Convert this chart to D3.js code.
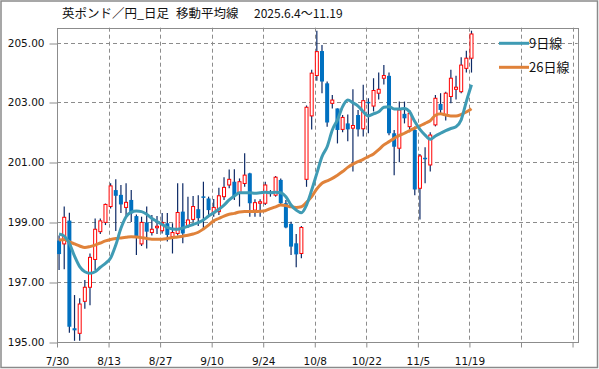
<!DOCTYPE html>
<html>
<head>
<meta charset="utf-8">
<script src="https://cdn.jsdelivr.net/npm/d3@7"></script>
<style>
  html, body { margin: 0; padding: 0; background: #fff; }
  svg { display: block; }
</style>
</head>
<body>
<div id="chart"></div>
<script>
(function () {
  const width = 599;
  const height = 369;

  // daily candles 7/30 .. 11/19
  const open  = [198.38,198.27,199.05,195.45,195.28,196.35,196.82,197.75,198.68,198.99,
                 199.52,200.07,199.91,199.49,199.74,199.20,198.27,198.99,198.65,198.85,
                 198.71,198.96,198.51,198.62,199.35,198.87,199.09,199.43,199.86,199.79,
                 199.31,199.35,199.85,200.24,200.35,199.99,200.29,200.63,199.40,199.65,
                 199.63,200.02,199.90,200.41,199.63,198.94,198.29,197.95,200.43,202.55,
                 203.90,204.72,203.64,202.97,202.80,202.10,202.30,202.14,202.58,202.12,
                 203.02,202.88,203.31,203.81,203.89,201.97,201.47,202.62,202.19,202.08,
                 200.13,201.15,200.91,202.25,202.95,202.58,203.20,203.44,203.36,204.14,
                 204.48];
  const high  = [198.55,199.52,199.31,196.56,196.45,197.06,197.95,199.12,199.12,199.62,
                 200.30,200.43,200.24,200.30,200.07,199.25,199.18,199.52,199.24,199.20,
                 199.30,199.30,198.96,200.30,200.30,199.85,199.87,199.90,200.35,199.85,
                 199.77,200.15,200.50,200.76,200.77,200.46,201.30,200.65,199.76,199.76,
                 200.35,200.07,200.54,200.46,199.74,199.01,198.60,198.87,202.90,204.09,
                 205.40,204.92,203.70,203.25,202.80,202.58,202.60,203.44,202.75,203.59,
                 203.14,203.81,204.00,204.25,204.00,202.08,203.03,203.03,202.75,202.20,
                 201.28,201.50,202.00,203.25,203.31,203.36,204.09,203.89,204.51,204.73,
                 205.40];
  const low   = [197.40,197.42,195.30,195.03,195.03,196.10,196.22,197.40,198.60,198.90,
                 199.45,198.70,199.30,199.18,199.00,197.90,198.20,198.12,198.55,198.60,
                 198.62,198.35,197.95,198.55,198.29,198.80,199.00,198.87,198.79,199.18,
                 199.18,199.24,199.74,200.13,199.74,199.52,200.18,199.18,199.18,199.18,
                 199.57,199.85,199.85,199.57,198.79,197.90,197.49,197.79,200.18,202.10,
                 203.73,203.31,202.19,202.80,201.63,202.00,201.70,200.69,201.86,201.86,
                 201.97,202.70,203.10,203.60,201.90,200.57,201.00,202.30,202.00,199.90,
                 199.09,200.30,200.69,202.20,202.60,202.40,202.97,203.10,203.31,204.00,
                 204.00];
  const close = [197.93,199.16,195.50,195.38,196.26,196.82,197.82,198.76,199.04,199.59,
                 200.21,199.88,199.59,199.66,199.29,198.51,198.99,198.68,198.76,198.86,
                 198.99,198.57,198.65,199.32,198.62,199.07,199.52,199.13,199.82,199.40,
                 199.49,199.88,200.16,200.43,199.87,200.35,200.57,199.63,199.65,199.68,
                 200.24,199.94,200.50,199.63,198.82,198.18,197.92,198.82,202.84,203.98,
                 204.70,203.70,202.33,203.08,202.08,202.50,202.10,202.23,202.10,203.06,
                 202.98,203.40,203.44,203.90,201.97,201.52,202.75,202.47,202.64,200.09,
                 201.21,201.10,201.91,203.14,202.75,203.31,203.81,203.51,204.25,204.48,
                 205.29];

  // moving averages as drawn
  const ma9  = [198.60,198.53,198.29,197.86,197.51,197.34,197.29,197.34,197.49,197.62,
                197.80,198.23,198.79,199.18,199.33,199.37,199.35,199.26,199.12,199.02,
                198.92,198.82,198.77,198.76,198.80,198.86,198.92,198.98,199.07,199.20,
                199.31,199.43,199.57,199.74,199.87,199.98,199.98,199.98,199.96,199.98,
                200.00,199.98,200.00,199.98,199.85,199.57,199.40,199.31,199.57,200.07,
                200.63,201.19,201.52,202.08,202.42,202.86,203.08,202.99,202.88,202.69,
                202.55,202.62,202.69,202.84,202.86,202.78,202.78,202.80,202.69,202.36,
                202.10,201.91,201.77,201.88,201.97,202.06,202.13,202.19,202.42,203.03,
                203.59];
  const ma26 = [198.40,198.42,198.34,198.27,198.20,198.15,198.18,198.23,198.30,198.37,
                198.42,198.45,198.47,198.49,198.51,198.50,198.48,198.45,198.43,198.43,
                198.43,198.45,198.48,198.50,198.53,198.56,198.60,198.66,198.77,198.90,
                199.04,199.12,199.20,199.26,199.29,199.34,199.35,199.35,199.35,199.36,
                199.38,199.45,199.51,199.57,199.55,199.51,199.49,199.51,199.66,199.85,
                200.11,200.30,200.38,200.46,200.57,200.69,200.83,200.94,201.02,201.10,
                201.19,201.28,201.42,201.58,201.69,201.80,201.90,201.97,202.06,202.14,
                202.22,202.30,202.39,202.57,202.62,202.58,202.55,202.55,202.60,202.68,
                202.79];

  const xTickLabels = ["7/30","8/13","8/27","9/10","9/24","10/8","10/22","11/5","11/19","",""];
  const yTicks = [195, 197, 199, 201, 203, 205];
  const seriesNames = ["9日線", "26日線"];
  const seriesColors = ["#3f9bb4", "#e0823a"];

  const plot = { left: 57, top: 27.7, right: 577.7, bottom: 341.7 };
  const slots = 101;

  const x = d3.scaleLinear().domain([0, slots]).range([plot.left, plot.right]);
  const y = d3.scaleLinear().domain([195, 205.5]).range([plot.bottom, plot.top]);
  const cx = i => x(i + 0.4);

  const svg = d3.select("#chart")
    .append("svg")
    .attr("width", width)
    .attr("height", height)
    .style("font-family", "'DejaVu Sans', sans-serif");

  svg.append("rect")
    .attr("width", width).attr("height", height)
    .attr("fill", "#fff");

  // outer frame
  svg.append("rect")
    .attr("x", 1).attr("y", 1)
    .attr("width", width - 2.5).attr("height", height - 2.5)
    .attr("fill", "none")
    .attr("stroke", "#8a8a8a")
    .attr("stroke-width", 1.5);

  // title
  const title = svg.append("g")
    .style("font-family", "'Noto Sans CJK JP', sans-serif")
    .style("font-size", "12.5px")
    .attr("fill", "#111");
  title.append("text").attr("x", 62).attr("y", 17.5).text("英ポンド／円_日足");
  title.append("text").attr("x", 176).attr("y", 17.5).text("移動平均線");
  title.append("text").attr("x", 254).attr("y", 17.5)
    .style("font-size", "12px")
    .text("2025.6.4～11.19");

  const grid = svg.append("g")
    .attr("stroke", "#8c8c8c")
    .attr("stroke-width", 1)
    .attr("stroke-dasharray", "4,3");

  // horizontal gridlines
  grid.selectAll("line.h")
    .data(yTicks.filter(v => v > 195))
    .join("line")
    .attr("class", "h")
    .attr("x1", plot.left).attr("x2", plot.right)
    .attr("y1", d => Math.round(y(d)) + 0.5)
    .attr("y2", d => Math.round(y(d)) + 0.5);

  // vertical gridlines
  grid.selectAll("line.v")
    .data(d3.range(1, xTickLabels.length))
    .join("line")
    .attr("class", "v")
    .attr("x1", d => Math.round(x(d * 10)) + 0.5)
    .attr("x2", d => Math.round(x(d * 10)) + 0.5)
    .attr("y1", plot.top).attr("y2", plot.bottom);

  // y axis
  const yAxis = svg.append("g")
    .attr("transform", `translate(${Math.round(plot.left) + 0.5},0)`)
    .call(d3.axisLeft(y).tickValues(yTicks).tickSize(8).tickPadding(5)
      .tickFormat(d3.format(".2f")));
  yAxis.select(".domain").remove();
  yAxis.selectAll(".tick line").attr("stroke", "#8c8c8c")
    .attr("transform", d => `translate(0,${Math.round(y(d)) + 0.5 - y(d)})`);
  yAxis.selectAll(".tick text")
    .attr("fill", "#111").style("font-size", "10.5px").style("font-family", "'DejaVu Sans', sans-serif");

  // x axis
  const xAxis = svg.append("g")
    .attr("transform", `translate(0,${Math.round(plot.bottom) + 0.5})`)
    .call(d3.axisBottom(x).tickValues(d3.range(0, slots, 10)).tickSize(5).tickPadding(10)
      .tickFormat((d, i) => xTickLabels[i]));
  xAxis.select(".domain").remove();
  xAxis.selectAll(".tick line").attr("stroke", "#8c8c8c");
  xAxis.selectAll(".tick text")
    .attr("fill", "#111").style("font-size", "10.5px").style("font-family", "'DejaVu Sans', sans-serif");

  // plot frame
  svg.append("rect")
    .attr("x", Math.round(plot.left) + 0.5)
    .attr("y", Math.round(plot.top) + 0.5)
    .attr("width", Math.round(plot.right) - Math.round(plot.left))
    .attr("height", Math.round(plot.bottom) - Math.round(plot.top))
    .attr("fill", "none")
    .attr("stroke", "#8c8c8c");

  // candles
  const candles = svg.append("g");
  const idx = d3.range(close.length);

  candles.selectAll("line.wick")
    .data(idx)
    .join("line")
    .attr("class", "wick")
    .attr("x1", i => cx(i)).attr("x2", i => cx(i))
    .attr("y1", i => y(high[i])).attr("y2", i => y(low[i]))
    .attr("stroke", "#0d2a66")
    .attr("stroke-width", 1.2);

  candles.selectAll("rect.body")
    .data(idx)
    .join("rect")
    .attr("class", "body")
    .attr("x", i => close[i] >= open[i] ? cx(i) - 1.5 : cx(i) - 2)
    .attr("width", i => close[i] >= open[i] ? 3 : 4)
    .attr("y", i => y(Math.max(open[i], close[i])))
    .attr("height", i => Math.max(1.5, Math.abs(y(open[i]) - y(close[i]))))
    .attr("fill", i => close[i] >= open[i] ? "#fff" : "#0070c0")
    .attr("stroke", i => close[i] >= open[i] ? "#ff0000" : "none")
    .attr("stroke-width", 1);

  // moving averages
  const line = d3.line().x((d, i) => cx(i)).y(d => y(d)).curve(d3.curveMonotoneX);
  [ma26, ma9].forEach((s, k) => {
    svg.append("path")
      .datum(s)
      .attr("fill", "none")
      .attr("stroke", seriesColors[1 - k])
      .attr("stroke-width", 3)
      .attr("stroke-linejoin", "round")
      .attr("d", line);
  });

  // legend
  const legend = svg.append("g")
    .style("font-family", "'Noto Sans CJK JP', sans-serif")
    .style("font-size", "13px");
  seriesNames.forEach((name, k) => {
    const ly = 43.3 + k * 24;
    legend.append("line")
      .attr("x1", 499).attr("x2", 529)
      .attr("y1", ly).attr("y2", ly)
      .attr("stroke", seriesColors[k])
      .attr("stroke-width", 3);
    legend.append("text")
      .attr("x", 529).attr("y", ly + 4.8)
      .attr("fill", "#111")
      .text(name);
  });
})();
</script>
</body>
</html>
